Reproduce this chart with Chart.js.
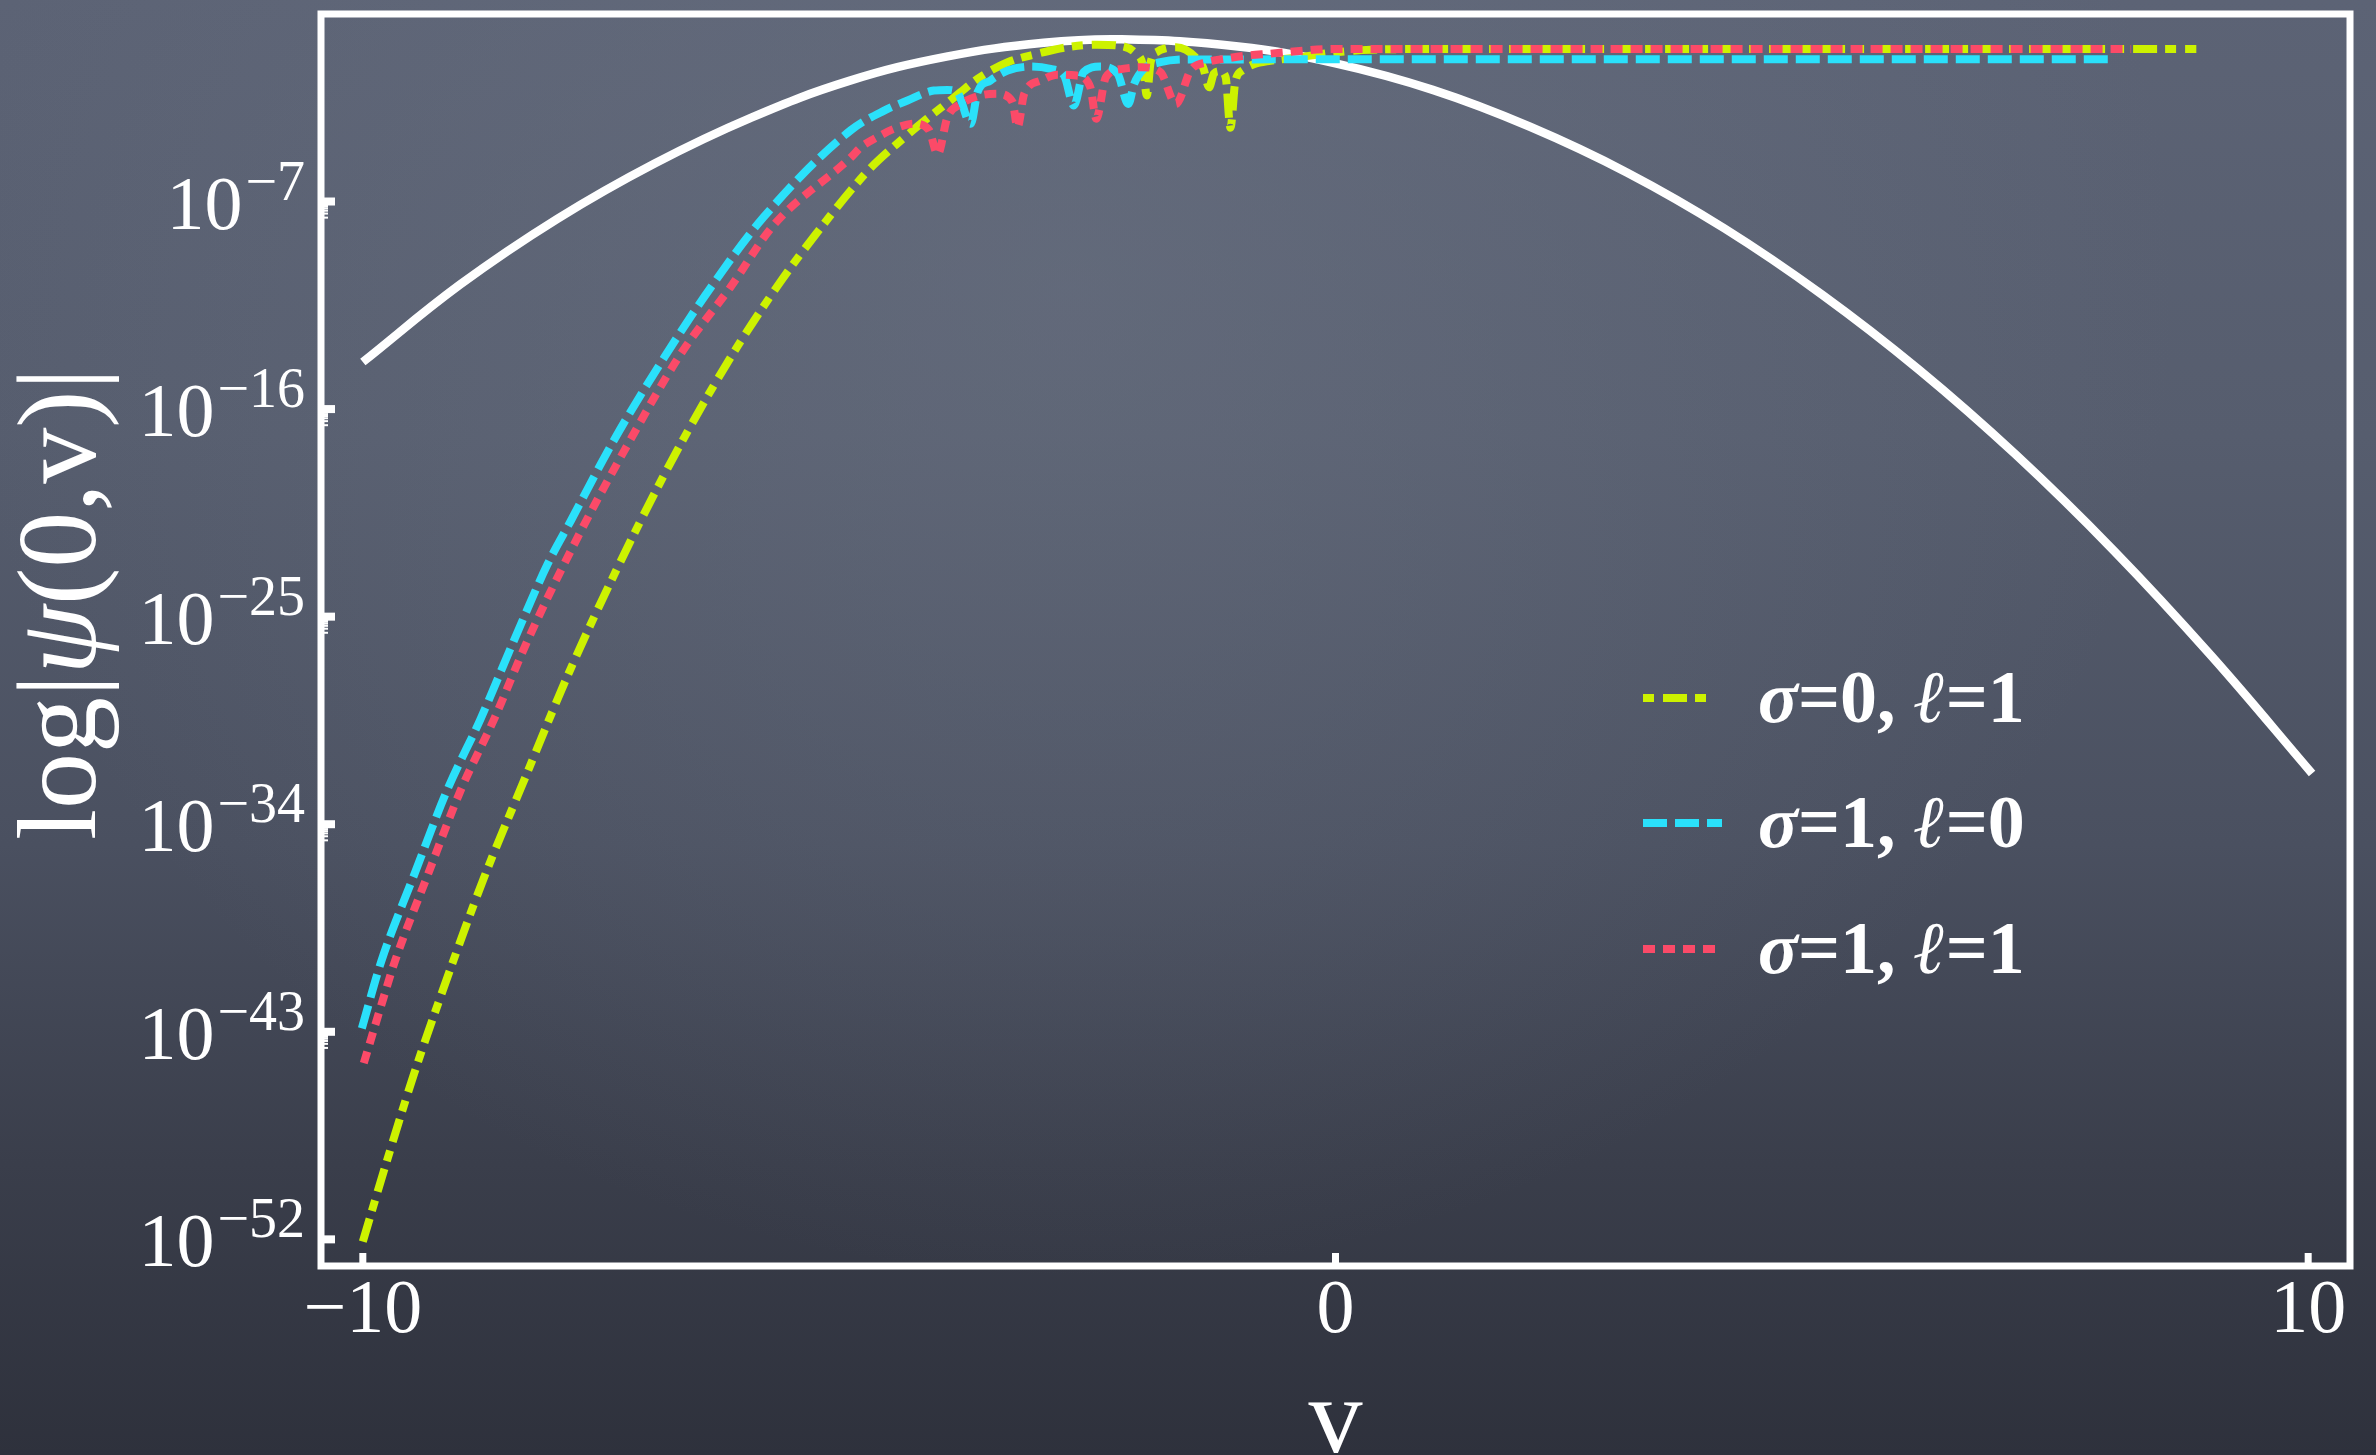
<!DOCTYPE html>
<html>
<head>
<meta charset="utf-8">
<title>log|psi(0,v)|</title>
<script src="https://cdn.jsdelivr.net/npm/chart.js@4.4.1/dist/chart.umd.min.js"></script>
<style>
  html, body {
    margin: 0;
    padding: 0;
    overflow: hidden;
  }
  body {
    width: 2376px;
    height: 1455px;
    background:
      radial-gradient(ellipse at 45% 20%, rgba(110, 118, 134, 0.45) 0%, rgba(110, 118, 134, 0) 60%),
      linear-gradient(180deg, #5c6375 0%, #565d6e 30%, #4a5060 58%, #3a3e4b 80%, #2e313c 100%);
  }
  canvas { display: block; }
</style>
</head>
<body>
<canvas id="psi-chart" width="2376" height="1455"></canvas>
<script>
// values; y values are stored as powers of ten
const vWhite = [-10, -9, -8, -7, -6, -5, -4, -3, -2.2, -1, 0, 1, 2, 3, 4, 5, 6, 7, 8, 9, 10.04];
const eWhite = [-13.96, -10.6, -7.75, -5.35, -3.35, -1.77, -0.72, -0.12, 0.03, -0.28, -1.01, -2.16, -3.76, -5.75, -8.17, -11.03, -14.3, -18.0, -22.13, -26.68, -31.8];

const vYellow = [-10.0, -9.78, -9.47, -9.16, -8.76, -8.36, -7.85, -7.21, -6.73, -6.22, -5.71, -5.33, -4.98, -4.78, -4.47, -4.2, -3.96, -3.68, -3.37, -3.07, -2.76, -2.45, -2.2, -2.05, -1.98, -1.94, -1.9, -1.83, -1.74, -1.64, -1.54, -1.44, -1.36, -1.3, -1.25, -1.19, -1.13, -1.08, -1.03, -0.95, -0.84, -0.67, -0.36, 0.0, 0.36, 1.0, 8.85];
const eYellow = [-52.1, -48.98, -44.78, -40.99, -36.38, -32.28, -27.13, -21.4, -17.5, -13.77, -10.5, -8.35, -6.5, -5.55, -4.36, -3.41, -2.62, -1.68, -0.96, -0.6, -0.31, -0.2, -0.26, -0.6, -1.1, -2.4, -0.95, -0.5, -0.35, -0.31, -0.42, -0.75, -1.2, -2.05, -1.45, -1.35, -1.6, -3.8, -1.8, -1.3, -1.05, -0.9, -0.74, -0.53, -0.42, -0.39, -0.39];

const vCyan = [-10.01, -9.81, -9.47, -9.13, -8.79, -8.45, -8.1, -7.86, -7.42, -6.9, -6.42, -5.88, -4.98, -4.64, -4.4, -4.13, -3.99, -3.89, -3.75, -3.68, -3.55, -3.37, -3.13, -2.93, -2.79, -2.69, -2.59, -2.42, -2.24, -2.13, -2.07, -1.97, -1.8, -1.56, 7.94];
const eCyan = [-42.85, -39.94, -36.17, -32.49, -29.44, -26.07, -22.72, -20.83, -17.36, -13.75, -10.71, -7.68, -3.9, -3.06, -2.62, -2.19, -2.16, -2.26, -3.63, -2.26, -1.76, -1.32, -1.15, -1.25, -1.54, -2.84, -1.39, -1.15, -1.46, -2.77, -1.9, -1.25, -0.96, -0.84, -0.83];

const vRed = [-9.99, -9.81, -9.67, -9.33, -8.99, -8.65, -8.31, -7.79, -7.31, -6.73, -6.22, -5.78, -4.98, -4.88, -4.71, -4.54, -4.33, -4.18, -4.09, -3.99, -3.85, -3.66, -3.48, -3.32, -3.27, -3.2, -3.03, -2.86, -2.66, -2.52, -2.46, -2.36, -2.19, -1.99, -1.8, -1.64, -1.49, -1.32, -1.11, -0.91, -0.7, 0.0, 8.18];
const eRed = [-44.36, -41.84, -39.94, -36.17, -32.49, -29.44, -26.07, -21.55, -17.79, -13.6, -10.71, -8.04, -5.08, -4.65, -4.21, -3.85, -3.63, -3.9, -4.95, -3.35, -2.77, -2.41, -2.33, -2.69, -3.78, -2.33, -1.76, -1.5, -1.54, -2.05, -3.41, -1.6, -1.25, -1.18, -1.39, -2.77, -1.32, -0.96, -0.79, -0.67, -0.6, -0.39, -0.39];

const seriesLabels = ["σ=0, ℓ=1", "σ=1, ℓ=0", "σ=1, ℓ=1"];
const xTickValues = [-10, 0, 10];
const yTickExponents = [-52, -43, -34, -25, -16, -7];
const yTitleParts = [["log|", false], ["ψ", true], ["(0,v)|", false]];

const SERIF = '"Liberation Serif", "DejaVu Serif", serif';

function toPoints(vs, es) {
    return vs.map((v, i) => ({ x: v, y: Math.pow(10, es[i]) }));
}

// frame box, inward tick marks, power-of-ten labels and the y title
const frameTicks = {
    id: "frameTicks",
    afterDatasetsDraw(chart) {
        const { ctx, chartArea: a, scales: { x, y } } = chart;
        ctx.save();
        ctx.fillStyle = "#ffffff";
        ctx.strokeStyle = "#ffffff";

        yTickExponents.forEach(n => {
            const py = y.getPixelForValue(Math.pow(10, n));
            ctx.fillRect(a.left, py - 4, 14, 8);
            if (n !== yTickExponents[0]) {
                for (let k = 2; k <= 9; k++) {
                    const my = y.getPixelForValue(k * Math.pow(10, n - 1));
                    ctx.fillRect(a.left, my - 1, 7, 2);
                }
            }

            // label: 10 with a raised exponent
            const right = a.left - 16;
            const expText = "−" + Math.abs(n);
            ctx.textAlign = "left";
            ctx.textBaseline = "alphabetic";
            ctx.font = "56px " + SERIF;
            const wExp = ctx.measureText(expText).width;
            ctx.fillText(expText, right - wExp, py - 2);
            ctx.font = "76px " + SERIF;
            const wBase = ctx.measureText("10").width;
            ctx.fillText("10", right - wExp - 3 - wBase, py + 27);
        });

        xTickValues.forEach(v => {
            const px = x.getPixelForValue(v);
            ctx.fillRect(px - 3.5, a.bottom - 13, 7, 13);
        });

        ctx.lineWidth = 7;
        ctx.strokeRect(a.left, a.top, a.right - a.left, a.bottom - a.top);

        // rotated y title, psi in italics
        ctx.translate(66, 604);
        ctx.rotate(-Math.PI / 2);
        ctx.textBaseline = "middle";
        let total = 0;
        yTitleParts.forEach(([t, it]) => {
            ctx.font = (it ? "italic " : "") + "112px " + SERIF;
            total += ctx.measureText(t).width;
        });
        let cx = -total / 2;
        yTitleParts.forEach(([t, it]) => {
            ctx.font = (it ? "italic " : "") + "112px " + SERIF;
            ctx.fillText(t, cx, 0);
            cx += ctx.measureText(t).width;
        });
        ctx.restore();
    }
};

// legend inside the plot, right-middle
const boardLegend = {
    id: "boardLegend",
    afterDraw(chart) {
        const { ctx, chartArea: a } = chart;
        const rows = [
            { ds: 1, len: 64, offset: 32, y: 684 },
            { ds: 2, len: 79, offset: 0, y: 809 },
            { ds: 3, len: 72, offset: 0, y: 935 }
        ];
        const x0 = a.left + 1322;
        const tx = a.left + 1437;
        ctx.save();
        rows.forEach((row, i) => {
            const ds = chart.data.datasets[row.ds];
            const ly = a.top + row.y;
            ctx.strokeStyle = ds.borderColor;
            ctx.lineWidth = 8;
            ctx.lineCap = "butt";
            ctx.setLineDash(ds.borderDash);
            ctx.lineDashOffset = row.offset;
            ctx.beginPath();
            ctx.moveTo(x0, ly);
            ctx.lineTo(x0 + row.len, ly);
            ctx.stroke();
            ctx.setLineDash([]);

            ctx.fillStyle = "#ffffff";
            ctx.textBaseline = "alphabetic";
            let cx = tx;
            for (const ch of seriesLabels[i]) {
                const italic = ch === "σ" || ch === "ℓ";
                ctx.font = (italic ? "italic bold " : "bold ") + "74px " + SERIF;
                ctx.fillText(ch, cx, ly + 24);
                cx += ctx.measureText(ch).width;
            }
        });
        ctx.restore();
    }
};

const ctx = document.getElementById("psi-chart").getContext("2d");
new Chart(ctx, {
    type: "line",
    data: {
        datasets: [
            {
                label: "reference",
                data: toPoints(vWhite, eWhite),
                borderColor: "#ffffff",
                borderWidth: 8.5,
                cubicInterpolationMode: "default",
                tension: 0.4,
                order: 3
            },
            {
                label: seriesLabels[0],
                data: toPoints(vYellow, eYellow),
                borderColor: "#cdf200",
                borderWidth: 8,
                borderDash: [24, 8, 11, 9],
                order: 2
            },
            {
                label: seriesLabels[1],
                data: toPoints(vCyan, eCyan),
                borderColor: "#2ae1fb",
                borderWidth: 8,
                borderDash: [24, 8],
                order: 1
            },
            {
                label: seriesLabels[2],
                data: toPoints(vRed, eRed),
                borderColor: "#fb4a68",
                borderWidth: 8,
                borderDash: [12, 8],
                order: 0
            }
        ]
    },
    options: {
        responsive: false,
        animation: false,
        devicePixelRatio: 1,
        layout: { padding: { left: 0, top: 14, right: 26, bottom: 0 } },
        elements: {
            point: { radius: 0 },
            line: { cubicInterpolationMode: "monotone", borderCapStyle: "butt", fill: false }
        },
        plugins: {
            legend: { display: false },
            tooltip: { enabled: false }
        },
        scales: {
            x: {
                type: "linear",
                min: -10.43,
                max: 10.43,
                afterFit: scale => {
                    scale.height = 189;
                    scale.paddingLeft = 0;
                    scale.paddingRight = 0;
                },
                afterBuildTicks: scale => { scale.ticks = xTickValues.map(v => ({ value: v })); },
                grid: { display: false, drawTicks: false },
                border: { display: false },
                ticks: {
                    color: "#ffffff",
                    padding: 0,
                    maxRotation: 0,
                    font: { family: SERIF, size: 76 },
                    callback: v => (v < 0 ? "−" + Math.abs(v) : String(v))
                },
                title: {
                    display: true,
                    text: "v",
                    color: "#ffffff",
                    padding: { top: 0, bottom: 4 },
                    font: { family: SERIF, size: 108, lineHeight: 0.5 }
                }
            },
            y: {
                type: "logarithmic",
                min: Math.pow(10, -53.15),
                max: Math.pow(10, 1.13),
                afterFit: scale => {
                    scale.width = 321;
                    scale.paddingTop = 0;
                    scale.paddingBottom = 0;
                },
                afterBuildTicks: scale => {
                    scale.ticks = yTickExponents.map(n => ({ value: Math.pow(10, n), major: true }));
                },
                grid: { display: false, drawTicks: false },
                border: { display: false },
                ticks: { display: false }
            }
        }
    },
    plugins: [frameTicks, boardLegend]
});
</script>
</body>
</html>
